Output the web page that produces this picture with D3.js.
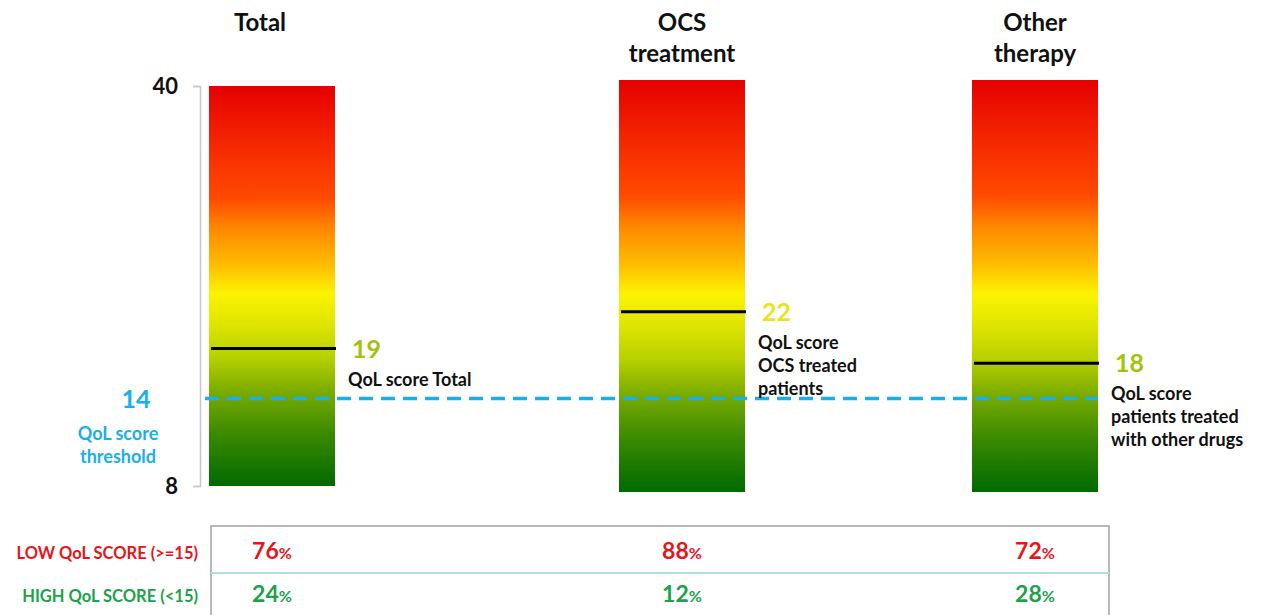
<!DOCTYPE html>
<html lang="en">
<head>
    <meta charset="utf-8">
    <title>QoL score</title>
    <script src="https://d3js.org/d3.v7.min.js"></script>
    <style>
        body { margin: 0; background: #fff; }
        svg { display: block; font-family: Lato, "Open Sans", sans-serif; font-weight: bold; }
    </style>
</head>
<body>
    <svg id="chart" width="1267" height="615"></svg>

    <script>
        // data
        var groups = ["Total", "OCS treatment", "Other therapy"];
        var headerLines = [["Total"], ["OCS", "treatment"], ["Other", "therapy"]];
        var meanScores = [19, 22, 18];
        var meanNotes = [["QoL score Total"], ["QoL score", "OCS treated", "patients"], ["QoL score", "patients treated", "with other drugs"]];
        var scoreRange = [8, 40];
        var cutoff = 15;
        var thresholdLabel = "14";
        var thresholdNote = ["QoL score", "threshold"];
        var rowLabels = ["LOW QoL SCORE (>=15)", "HIGH QoL SCORE (<15)"];
        var lowPct = [76, 88, 72];
        var highPct = [24, 12, 28];

        // layout
        var barW = 126;
        var barCenters = [272, 682, 1035];
        var barTops = [86, 80, 80];
        var barBottoms = [486, 492, 492];
        var noteColors = ["#a6c20c", "#ebe31c", "#a6c20c"];

        var svg = d3.select("#chart");

        var x = d3.scaleOrdinal().domain(groups).range(barCenters);
        // each bar has its own vertical extent in the picture
        var yScales = groups.map((g, i) => d3.scaleLinear().domain(scoreRange).range([barBottoms[i], barTops[i]]));
        var yMain = yScales[0];

        var defs = svg.append("defs");
        var grad = defs.append("linearGradient").attr("id", "heat")
            .attr("x1", 0).attr("y1", 0).attr("x2", 0).attr("y2", 1);
        var stops = [
            [0, "#e50000"], [0.18, "#f83000"], [0.28, "#ff4a00"], [0.36, "#ff8a00"],
            [0.45, "#ffbe00"], [0.52, "#fbf400"], [0.60, "#dde400"], [0.68, "#b6d000"],
            [0.76, "#7cad00"], [0.87, "#3a8a00"], [1, "#006a00"]
        ];
        grad.selectAll("stop").data(stops).enter().append("stop")
            .attr("offset", d => d[0]).attr("stop-color", d => d[1]);

        // headers
        groups.forEach((g, i) => {
            svg.append("text")
                .attr("text-anchor", "middle")
                .style("font-size", "24px")
                .attr("fill", "#111")
                .selectAll("tspan").data(headerLines[i]).enter().append("tspan")
                .attr("x", x(g) - (i === 0 ? 12 : 0))
                .attr("y", (d, j) => 31 + j * 31)
                .text(d => d);
        });

        // axis
        var axis = svg.append("g").attr("transform", "translate(200,0)")
            .call(d3.axisLeft(yMain).tickValues(scoreRange).tickSize(7).tickPadding(15).tickFormat(d3.format("d")));
        axis.select(".domain").attr("stroke", "#c8c8c8").attr("stroke-width", 1.5);
        axis.selectAll(".tick line").attr("stroke", "#c8c8c8").attr("stroke-width", 1.5);
        axis.selectAll(".tick text").attr("fill", "#111").style("font-size", "22px")
            .style("font-family", "Lato, sans-serif").style("font-weight", "bold");

        // bars
        svg.selectAll("rect.bar").data(groups).enter().append("rect")
            .attr("class", "bar")
            .attr("x", d => x(d) - barW / 2)
            .attr("y", (d, i) => yScales[i](scoreRange[1]))
            .attr("width", barW)
            .attr("height", (d, i) => yScales[i](scoreRange[0]) - yScales[i](scoreRange[1]))
            .attr("fill", "url(#heat)");

        // threshold line
        svg.append("line")
            .attr("x1", x(groups[0]) - barW / 2 - 4)
            .attr("x2", x(groups[2]) + barW / 2)
            .attr("y1", yMain(cutoff)).attr("y2", yMain(cutoff))
            .attr("stroke", "#1aafe6").attr("stroke-width", 3.5)
            .attr("stroke-dasharray", "14,8");

        svg.append("text")
            .attr("x", 136).attr("y", yMain(cutoff) + 9)
            .attr("text-anchor", "middle")
            .attr("fill", "#1aafe6").style("font-size", "25px")
            .text(thresholdLabel);
        svg.append("text")
            .attr("text-anchor", "middle").attr("fill", "#1aafe6").style("font-size", "18px")
            .selectAll("tspan").data(thresholdNote).enter().append("tspan")
            .attr("x", 118).attr("y", (d, j) => yMain(cutoff) + 41 + j * 23)
            .text(d => d);

        // mean lines and notes
        groups.forEach((g, i) => {
            var yv = yScales[i](meanScores[i]);
            var right = x(g) + barW / 2;
            svg.append("line")
                .attr("x1", x(g) - barW / 2 + 2).attr("x2", right + 1)
                .attr("y1", yv).attr("y2", yv)
                .attr("stroke", "#000").attr("stroke-width", 3);
            svg.append("text")
                .attr("x", right + 17).attr("y", yv + 9)
                .attr("fill", noteColors[i]).style("font-size", "25px")
                .text(meanScores[i]);
            svg.append("text")
                .attr("fill", "#111").style("font-size", "18px")
                .selectAll("tspan").data(meanNotes[i]).enter().append("tspan")
                .attr("x", right + 13).attr("y", (d, j) => yv + 37 + j * 23)
                .text(d => d);
        });

        // table
        var tLeft = 211, tRight = 1109, tTop = 526, tMid = 573;
        svg.append("path")
            .attr("d", `M${tLeft},615V${tTop}H${tRight}V615`)
            .attr("fill", "none").attr("stroke", "#b8b8b8").attr("stroke-width", 2);
        svg.append("line")
            .attr("x1", tLeft).attr("x2", tRight).attr("y1", tMid).attr("y2", tMid)
            .attr("stroke", "#b2dcea").attr("stroke-width", 2);

        var rows = [
            { label: rowLabels[0], vals: lowPct, color: "#e8141a", y: 559 },
            { label: rowLabels[1], vals: highPct, color: "#1ba24a", y: 602 }
        ];
        rows.forEach(r => {
            svg.append("text")
                .attr("x", 198).attr("y", r.y)
                .attr("text-anchor", "end")
                .attr("fill", r.color).style("font-size", "16.5px")
                .text(r.label);
            svg.selectAll(null).data(r.vals).enter().append("text")
                .attr("x", (d, i) => x(groups[i]))
                .attr("y", r.y)
                .attr("text-anchor", "middle")
                .attr("fill", r.color)
                .each(function (d) {
                    var t = d3.select(this);
                    t.append("tspan").style("font-size", "23px").text(d);
                    t.append("tspan").style("font-size", "16px").text("%");
                });
        });
    </script>
</body>
</html>
